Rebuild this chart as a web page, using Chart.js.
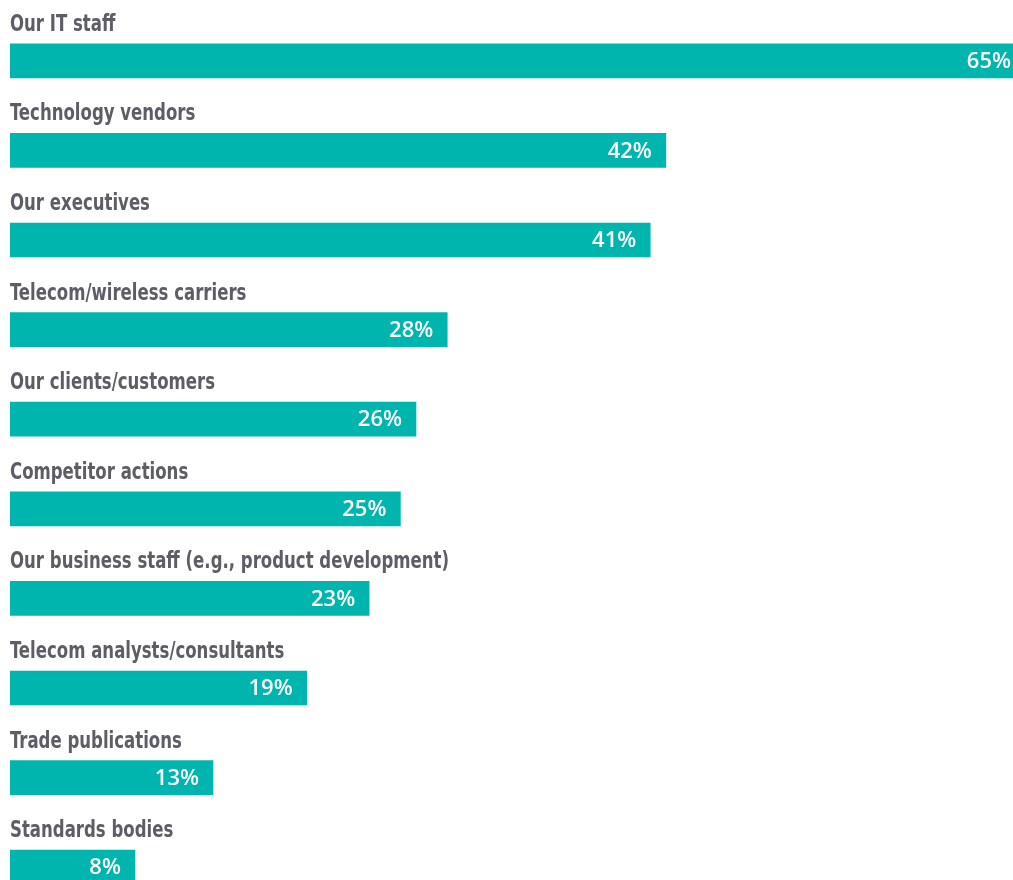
<!DOCTYPE html>
<html>
<head>
<meta charset="utf-8">
<script src="https://cdn.jsdelivr.net/npm/chart.js@4"></script>
<style>
  html, body { margin: 0; padding: 0; background: #ffffff; overflow: hidden; }
  #wrap { position: absolute; left: 0; top: 0; width: 1025px; height: 912px; }
</style>
</head>
<body>
<div id="wrap"><canvas id="c"></canvas></div>
<script>
const categories = [
  "Our IT staff",
  "Technology vendors",
  "Our executives",
  "Telecom/wireless carriers",
  "Our clients/customers",
  "Competitor actions",
  "Our business staff (e.g., product development)",
  "Telecom analysts/consultants",
  "Trade publications",
  "Standards bodies"
];
const values = [65, 42, 41, 28, 26, 25, 23, 19, 13, 8];
const valueLabels = ["65%", "42%", "41%", "28%", "26%", "25%", "23%", "19%", "13%", "8%"];

const BAR_COLOR = "#00b5ad";
const CAT_COLOR = "#5c5d65";
const BAR_THICK = 34;

const labelPlugin = {
  id: "labels",
  afterDatasetsDraw(chart) {
    const ctx = chart.ctx;
    const meta = chart.getDatasetMeta(0);
    const yScale = chart.scales.y;
    const area = chart.chartArea;
    // category labels above bars (condensed)
    const SX = 0.8;
    ctx.save();
    ctx.font = "bold 23px 'DejaVu Sans Condensed', 'DejaVu Sans', sans-serif";
    ctx.fillStyle = CAT_COLOR;
    ctx.textAlign = "left";
    ctx.textBaseline = "alphabetic";
    categories.forEach((c, i) => {
      const yc = yScale.getPixelForValue(i);
      ctx.save();
      ctx.translate(area.left, yc - BAR_THICK / 2 - 13);
      ctx.scale(SX, 1);
      ctx.fillText(c, 0, 0);
      ctx.restore();
    });
    ctx.restore();
    // value labels inside bars
    ctx.save();
    ctx.font = "600 22px 'Open Sans', sans-serif";
    ctx.fillStyle = "#ffffff";
    ctx.textAlign = "right";
    ctx.textBaseline = "middle";
    meta.data.forEach((bar, i) => {
      ctx.fillText(valueLabels[i], bar.x - 14, bar.y + 1);
    });
    ctx.restore();
  }
};

new Chart(document.getElementById("c"), {
  type: "bar",
  data: {
    labels: categories,
    datasets: [{
      data: values,
      backgroundColor: BAR_COLOR,
      borderWidth: 0,
      barThickness: BAR_THICK
    }]
  },
  options: {
    indexAxis: "y",
    responsive: true,
    maintainAspectRatio: false,
    animation: false,
    layout: { padding: { left: 10, top: 16, right: 0, bottom: 0 } },
    plugins: { legend: { display: false }, tooltip: { enabled: false } },
    scales: {
      x: { display: false, min: 0, max: 65 },
      y: { display: false }
    }
  },
  plugins: [labelPlugin]
});
</script>
</body>
</html>
